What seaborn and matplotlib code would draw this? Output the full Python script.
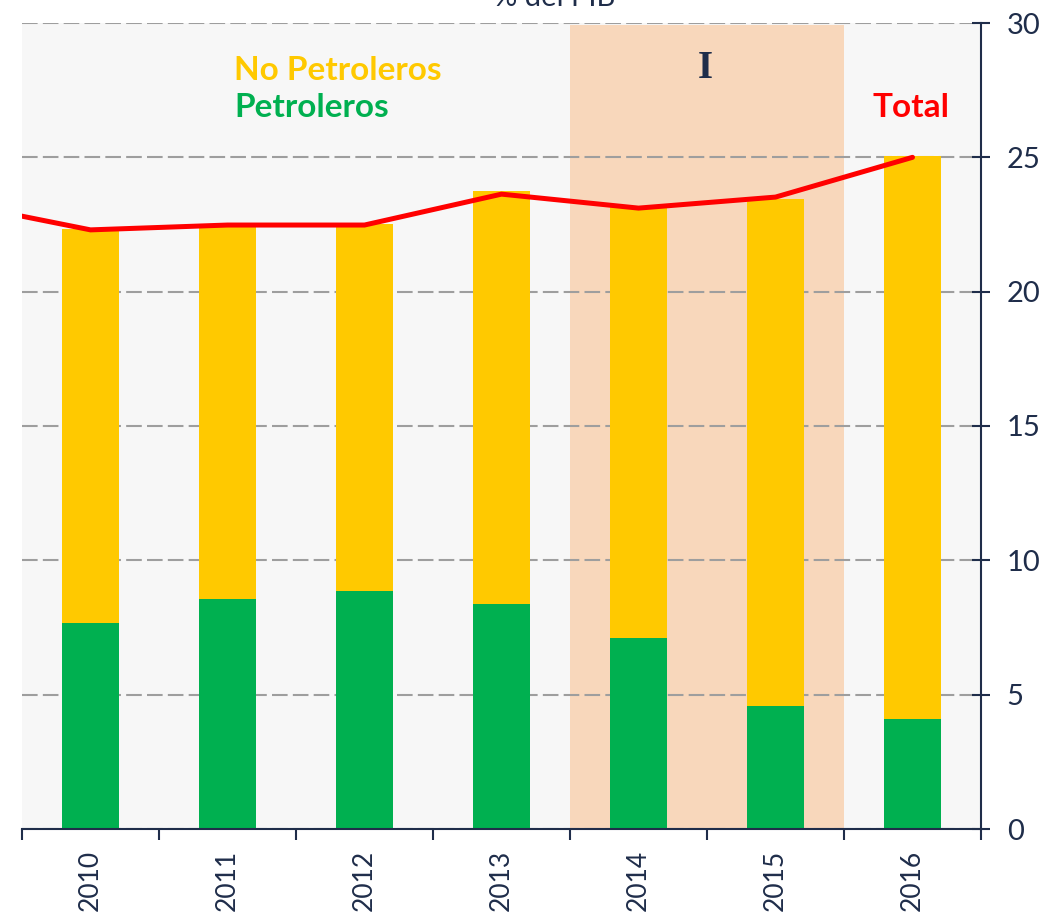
import numpy as np
import pandas as pd
import matplotlib
matplotlib.use("Agg")
import matplotlib.pyplot as plt
import seaborn as sns

# ---- data ----
years = ["2010", "2011", "2012", "2013", "2014", "2015", "2016"]
petroleros = [7.67, 8.56, 8.86, 8.37, 7.11, 4.58, 4.09]
no_petroleros = [14.66, 13.92, 13.66, 15.37, 16.04, 18.87, 20.96]
total_years = ["2009", "2010", "2011", "2012", "2013", "2014", "2015", "2016"]
total_line = [23.32, 22.30, 22.48, 22.48, 23.63, 23.11, 23.52, 25.00]
y_ticks = [0, 5, 10, 15, 20, 25, 30]

# ---- style ----
YELLOW = "#FFC900"
GREEN = "#00B050"
RED = "#FF0000"
PEACH = "#F8D7BB"
BG = "#F7F7F7"
NAVY = "#1F2D4A"
GRID = "#9E9E9E"

sns.set_theme(style="white")
plt.rcParams["font.family"] = ["Lato", "DejaVu Sans"]

fig = plt.figure(figsize=(10.5, 9.17), dpi=100)
ax = fig.add_axes([22 / 1050, 1 - 829 / 917, (981 - 22) / 1050, (829 - 23) / 917])
ax.set_facecolor(BG)

df = pd.DataFrame({"year": years, "pet": petroleros, "nopet": no_petroleros})
df["tot"] = df["pet"] + df["nopet"]

# shaded period
ax.axvspan(3.5, 5.5, ymin=0, ymax=0.997, color=PEACH, zorder=0.5, lw=0)

# gridlines
ax.set_axisbelow(True)
ax.yaxis.grid(True, linestyle=(0, (7.5, 2.5)), color=GRID, lw=1.5, zorder=1)
ax.xaxis.grid(False)

sns.barplot(data=df, x="year", y="tot", color=YELLOW, saturation=1, width=0.416,
            ax=ax, zorder=2, linewidth=0)
sns.barplot(data=df, x="year", y="pet", color=GREEN, saturation=1, width=0.416,
            ax=ax, zorder=2.1, linewidth=0)

# total line (positions relative to the categorical axis)
pos = np.arange(len(total_years)) - 1
sns.lineplot(x=pos, y=total_line, color=RED, lw=3.6, ax=ax, zorder=3,
             solid_joinstyle="miter")

ax.set_xlim(-0.5, 6.5)
ax.set_ylim(0, 30)
ax.set_xlabel("")
ax.set_ylabel("")

# y axis on right
ax.yaxis.tick_right()
ax.set_yticks(y_ticks)
ax.set_yticklabels([str(v) for v in y_ticks])
ax.tick_params(axis="y", direction="inout", length=13, width=1.5, color=NAVY,
               labelcolor=NAVY, labelsize=21, pad=12, right=True, left=False)

# x axis: labels at centres, ticks at boundaries
ax.set_xticks(range(len(years)))
ax.set_xticklabels(years, rotation=90, va="top", ha="center")
ax.set_xticks(np.arange(-0.5, 7.0, 1.0), minor=True)
ax.tick_params(axis="x", which="major", length=0, labelcolor=NAVY, labelsize=19, pad=15)
ax.tick_params(axis="x", which="minor", direction="out", length=8, width=1.5,
               color=NAVY, bottom=True)

for s in ["left", "top"]:
    ax.spines[s].set_visible(False)
for s in ["right", "bottom"]:
    ax.spines[s].set_visible(True)
    ax.spines[s].set_color(NAVY)
    ax.spines[s].set_linewidth(1.5)

# annotations
ax.text(1.05, 28.25, "No Petroleros", color=YELLOW, fontsize=24, fontweight="bold",
        ha="left", va="center", zorder=5)
ax.text(1.05, 26.87, "Petroleros", color=GREEN, fontsize=24, fontweight="bold",
        ha="left", va="center", zorder=5)
ax.text(5.71, 26.87, "Total", color=RED, fontsize=24, fontweight="bold",
        ha="left", va="center", zorder=5)
ax.text(4.49, 28.3, "I", color=NAVY, fontsize=28, fontweight="bold",
        family=["Liberation Serif", "DejaVu Serif"], ha="center", va="center", zorder=5)

fig.text(555 / 1050, 1 - 6 / 917, "% del PIB", color=NAVY, fontsize=21,
         ha="center", va="baseline")

fig.savefig("out.png", dpi=100)
